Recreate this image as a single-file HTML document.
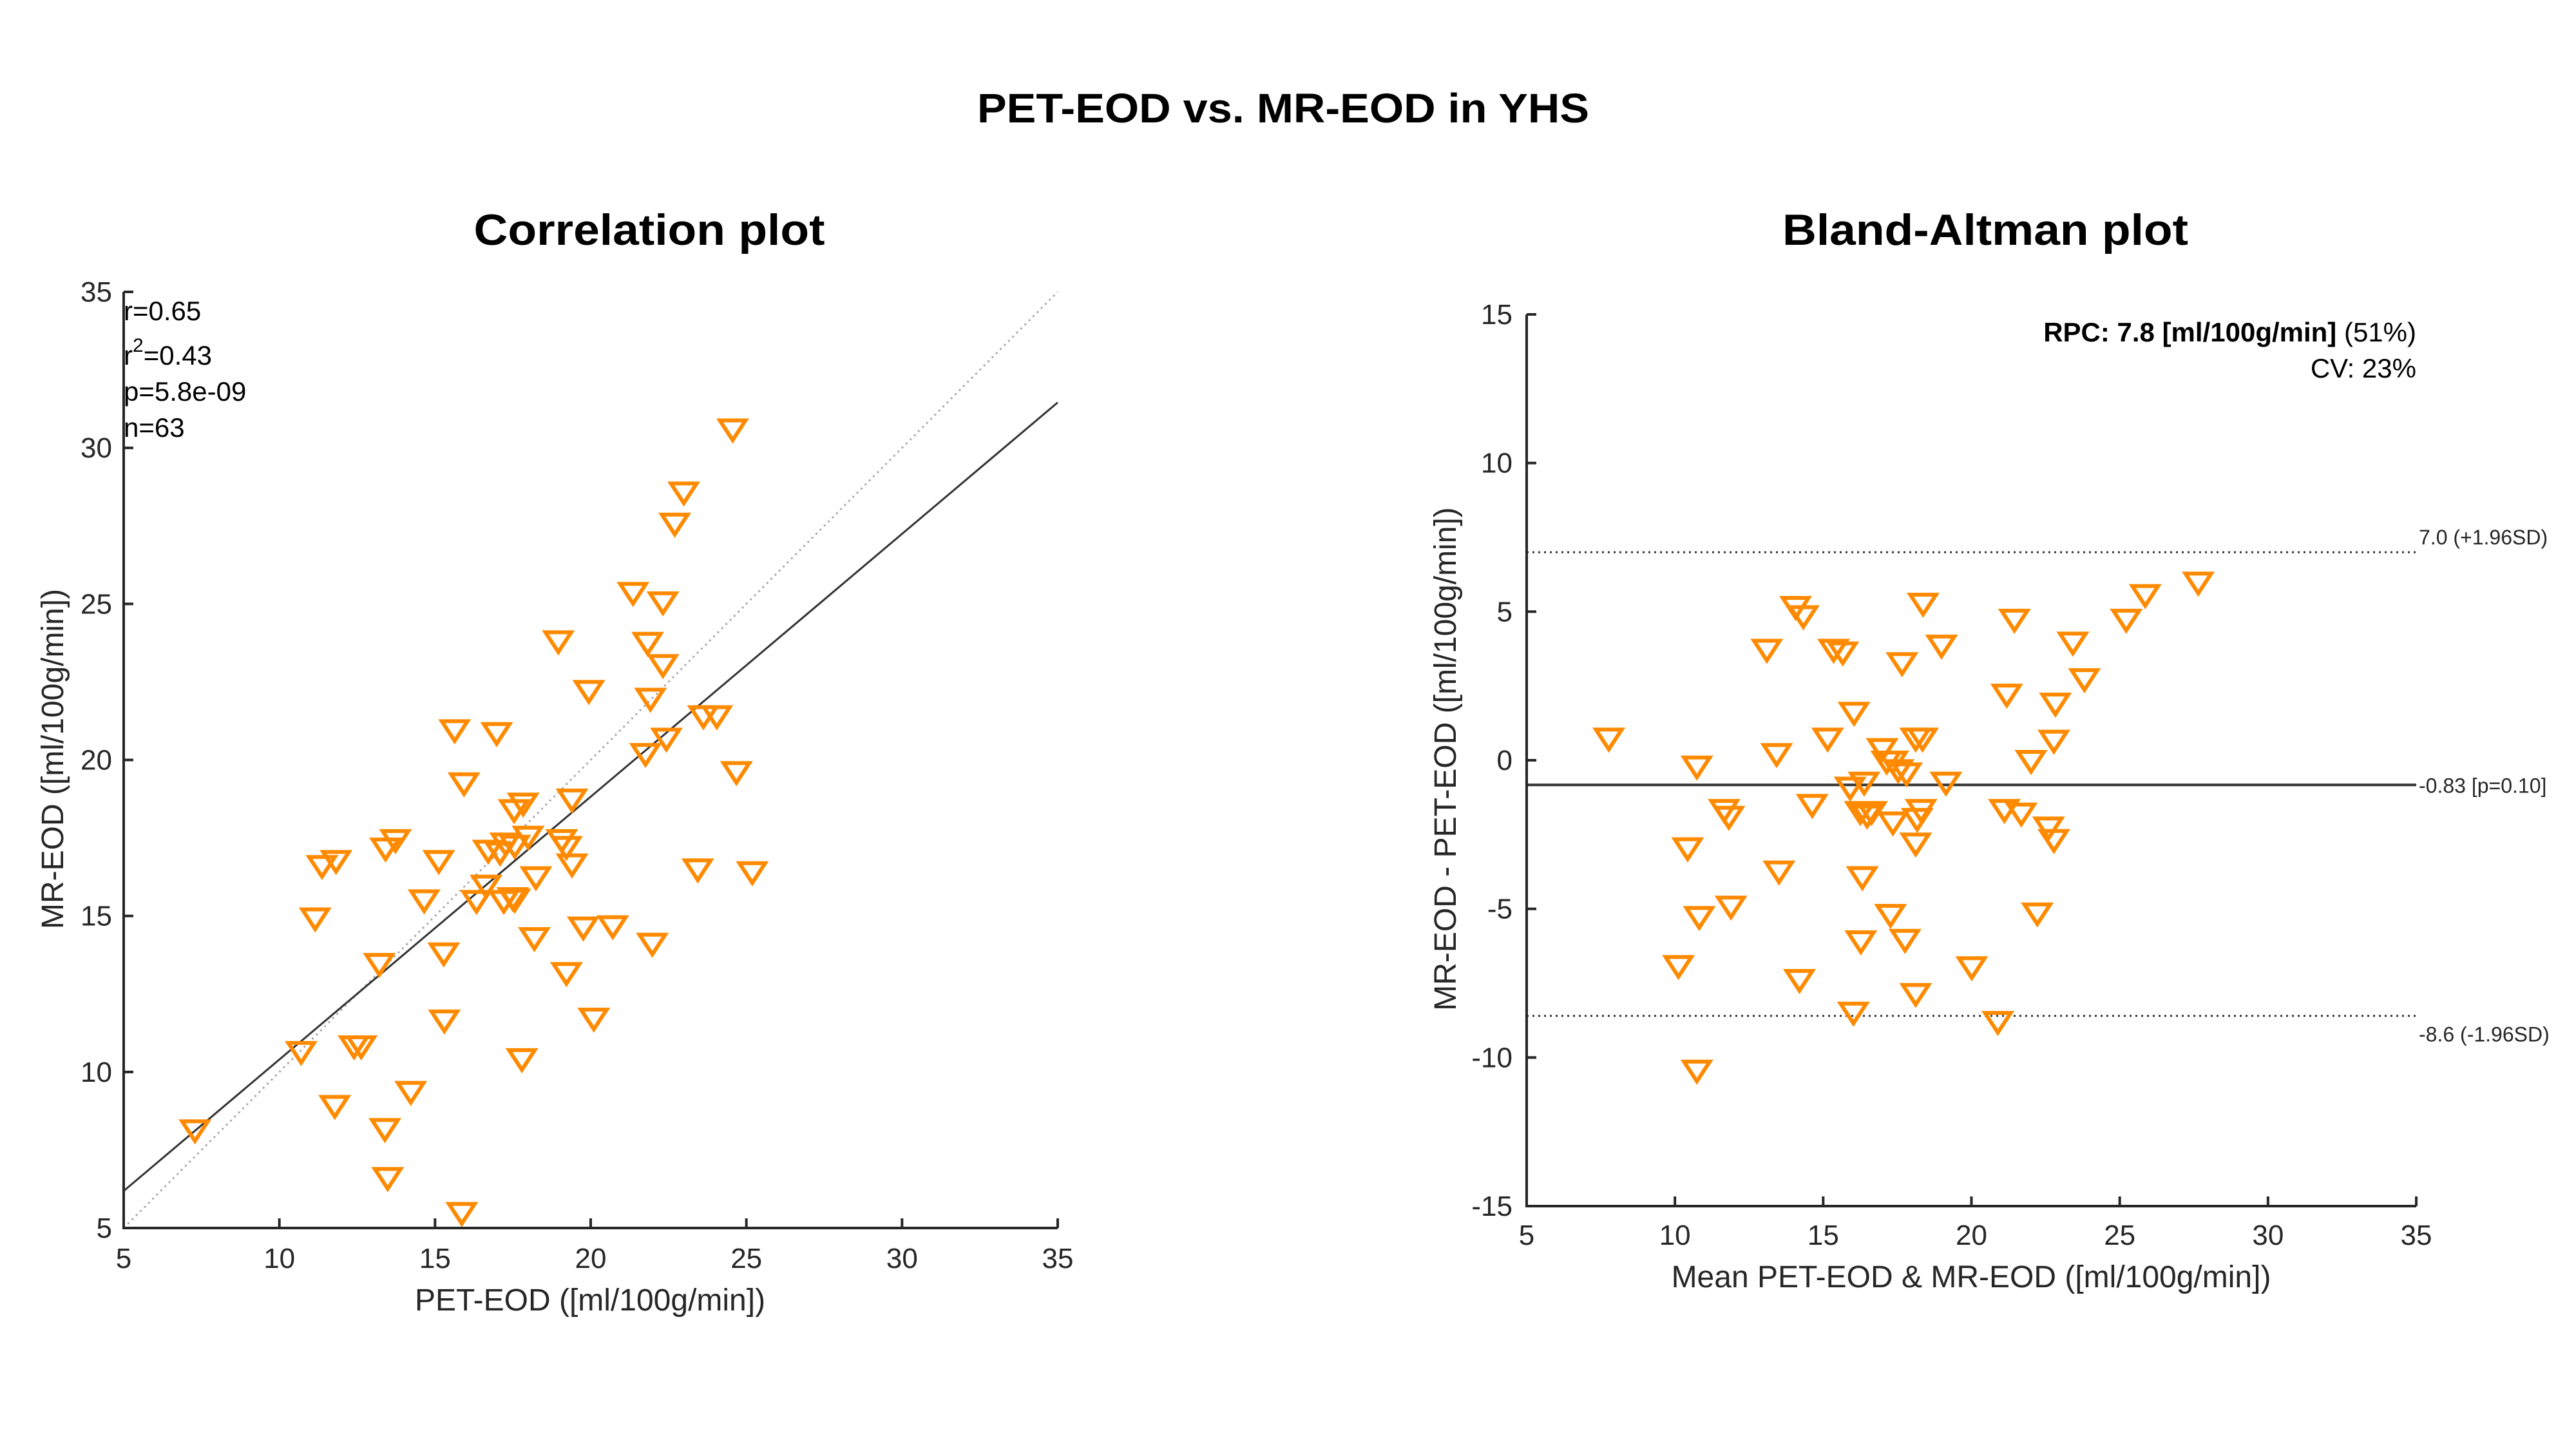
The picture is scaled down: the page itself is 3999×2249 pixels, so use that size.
<!DOCTYPE html>
<html><head><meta charset="utf-8"><style>
html,body{margin:0;padding:0;background:#fff;}
svg{display:block;}
text{font-family:"Liberation Sans",sans-serif;fill:#262626;}
</style></head><body>
<svg id="fig" width="3999" height="2249" viewBox="0 0 3999 2249" xmlns="http://www.w3.org/2000/svg">
<rect width="3999" height="2249" fill="#fff"/>
<text x="1992" y="190" text-anchor="middle" font-size="64" font-weight="bold" fill="#000" style="fill:#000" textLength="950" lengthAdjust="spacingAndGlyphs">PET-EOD vs. MR-EOD in YHS</text>
<text x="1008" y="380" text-anchor="middle" font-size="68" font-weight="bold" style="fill:#000" textLength="545" lengthAdjust="spacingAndGlyphs">Correlation plot</text>
<text x="3082" y="380" text-anchor="middle" font-size="68" font-weight="bold" style="fill:#000" textLength="630" lengthAdjust="spacingAndGlyphs">Bland-Altman plot</text>
<g id="left"></g>
<g id="right"></g>
</svg>
<script>
// Correlation plot data
const petEOD = [7.29,10.70,11.15,11.37,11.82,11.78,12.40,12.63,13.21,13.39,13.48,13.41,13.73,14.22,14.65,15.12,15.28,15.30,15.63,15.93,15.86,16.33,16.64,16.71,16.98,17.09,17.21,17.27,17.50,17.56,17.54,17.83,17.99,17.79,18.24,18.19,18.96,19.07,19.22,19.40,19.40,19.22,19.94,19.76,20.10,20.71,21.36,21.83,21.76,21.92,21.98,22.32,22.32,22.43,22.70,22.99,23.62,24.05,23.44,24.56,24.68,25.19,17.56];
const mrEOD = [8.21,10.72,15.0,16.68,16.84,8.99,10.9,10.9,13.54,8.25,6.68,17.24,17.51,9.44,15.58,16.84,13.88,11.73,21.03,19.33,5.56,15.56,16.05,17.17,20.94,17.11,15.56,17.40,15.65,17.33,18.47,18.68,17.62,10.49,16.32,14.37,23.88,17.51,17.29,16.73,18.81,13.25,22.29,14.71,11.79,14.75,25.43,23.83,20.27,22.04,14.19,25.13,23.12,20.76,27.65,28.65,21.48,21.48,16.57,30.67,19.69,16.48,15.6];
const leftTicks = [5,10,15,20,25,30,35];
const statLabels = ["r=0.65","r²=0.43","p=5.8e-09","n=63"];
// Bland-Altman data
const baMean = [7.77,10.74,10.43,10.82,10.12,10.74,11.66,11.82,11.89,13.10,13.43,13.51,14.07,14.33,14.63,14.20,15.15,15.35,15.66,16.04,15.91,16.38,16.25,16.48,16.63,16.32,16.27,16.02,16.99,17.14,17.35,17.53,17.81,17.35,17.27,17.76,17.66,18.12,18.35,18.37,18.30,18.17,18.12,18.12,18.99,19.14,20.01,20.89,21.19,21.11,21.68,21.45,22.01,22.22,22.60,22.78,22.83,22.78,23.42,23.81,25.22,25.86,27.65];
const baDiff = [0.81,-0.13,-2.88,-5.19,-6.84,-10.36,-1.59,-1.82,-4.84,3.80,0.29,-3.66,5.24,4.93,-1.42,-7.31,0.81,3.80,3.71,1.68,-0.84,-0.67,-1.66,-1.78,-1.66,-3.85,-6.01,-8.41,0.46,0.04,0.04,-0.25,-0.36,-2.01,-5.12,-5.96,3.35,0.81,0.81,5.35,-1.59,-1.89,-2.72,-7.78,3.94,-0.67,-6.88,-8.72,2.29,-1.59,-1.71,4.81,0.06,-5.07,-2.18,-2.60,1.99,0.74,4.04,2.81,4.81,5.64,6.06];
const baXTicks = [5,10,15,20,25,30,35];
const baYTicks = [-15,-10,-5,0,5,10,15];
const baLines = [7.0,-0.83,-8.6];
const baLineLabels = ["7.0 (+1.96SD)","-0.83 [p=0.10]","-8.6 (-1.96SD)"];

const NS="http://www.w3.org/2000/svg";
function mk(parent,tag,attrs,txt){const e=document.createElementNS(NS,tag);for(const k in attrs)e.setAttribute(k,attrs[k]);if(txt!==undefined)e.textContent=txt;parent.appendChild(e);return e;}
function tri(g,cx,cy){const w=20,h=17;const p=mk(g,'polygon',{points:`${cx-w},${cy-h*0.6} ${cx+w},${cy-h*0.6} ${cx},${cy+h*1.2}`,fill:'none',stroke:'#FF8A00','stroke-width':6,'stroke-linejoin':'miter'});return p;}

// LEFT
const L=document.getElementById('left');
const lx=v=>192+(v-5)/30*(1642-192);
const ly=v=>1906-(v-5)/30*(1906-453);
let e;
e=mk(L,'line',{x1:lx(5),y1:ly(5),x2:lx(35),y2:ly(35),stroke:'#aaa','stroke-width':3,'stroke-dasharray':'3 6'});


// regression
const n=petEOD.length;let mx=0,my=0;for(let i=0;i<n;i++){mx+=petEOD[i];my+=mrEOD[i];}mx/=n;my/=n;
let sxy=0,sxx=0;for(let i=0;i<n;i++){sxy+=(petEOD[i]-mx)*(mrEOD[i]-my);sxx+=(petEOD[i]-mx)**2;}
const b=sxy/sxx,a=my-b*mx;
e=mk(L,'line',{x1:lx(5),y1:ly(a+b*5),x2:lx(35),y2:ly(a+b*35),stroke:'#333','stroke-width':3});


for(let i=0;i<n;i++){e=tri(L,lx(petEOD[i]),ly(mrEOD[i]));

}
e=mk(L,'path',{d:`M${lx(5)},${ly(35)}V${ly(5)}H${lx(35)}`,fill:'none',stroke:'#262626','stroke-width':4});


leftTicks.forEach(t=>{
 e=mk(L,'line',{x1:lx(t),y1:ly(5),x2:lx(t),y2:ly(5)-15,stroke:'#262626','stroke-width':4});
 
 
 e=mk(L,'line',{x1:lx(5),y1:ly(t),x2:lx(5)+15,y2:ly(t),stroke:'#262626','stroke-width':4});
 
 
 e=mk(L,'text',{x:lx(t),y:ly(5)+62,'text-anchor':'middle','font-size':44},String(t));
 
 
 e=mk(L,'text',{x:lx(5)-18,y:ly(t)+15,'text-anchor':'end','font-size':44},String(t));
 
 
});
const statY=[497,566,622,678];
statLabels.forEach((s,i)=>{
 e=mk(L,'text',{x:192,y:statY[i],'font-size':42,style:'fill:#000'});
 if(s.indexOf('²')>=0){mk(e,'tspan',{},'r');mk(e,'tspan',{dy:-20,'font-size':30},'2');mk(e,'tspan',{dy:20},'=0.43');}else e.textContent=s;
 
 
});
e=mk(L,'text',{x:916,y:2034,'text-anchor':'middle','font-size':48},'PET-EOD ([ml/100g/min])');


e=mk(L,'text',{x:0,y:0,'text-anchor':'middle','font-size':48,transform:'translate(98,1178) rotate(-90)'},'MR-EOD ([ml/100g/min])');



// RIGHT
const R=document.getElementById('right');
const rx=v=>2370+(v-5)/30*(3751-2370);
const ry=v=>1872-(v+15)/30*(1872-488);
baLines.forEach((v,i)=>{
 e=mk(R,'line',{x1:rx(5),y1:ry(v),x2:rx(35),y2:ry(v),stroke:'#333','stroke-width':i===1?4:3,'stroke-dasharray':i===1?'none':'3 6'});
 
 
 const dy=i===0?-12:(i===1?12:40);
 e=mk(R,'text',{x:rx(35)+4,y:ry(v)+dy,'font-size':32},baLineLabels[i]);
 
 
});
for(let i=0;i<baMean.length;i++){e=tri(R,rx(baMean[i]),ry(baDiff[i]));

}
e=mk(R,'path',{d:`M${rx(5)},${ry(15)}V${ry(-15)}H${rx(35)}`,fill:'none',stroke:'#262626','stroke-width':4});


baXTicks.forEach(t=>{
 e=mk(R,'line',{x1:rx(t),y1:ry(-15),x2:rx(t),y2:ry(-15)-15,stroke:'#262626','stroke-width':4});
 
 
 e=mk(R,'text',{x:rx(t),y:ry(-15)+60,'text-anchor':'middle','font-size':44},String(t));
 
 
});
baYTicks.forEach(t=>{
 e=mk(R,'line',{x1:rx(5),y1:ry(t),x2:rx(5)+15,y2:ry(t),stroke:'#262626','stroke-width':4});
 
 
 e=mk(R,'text',{x:rx(5)-22,y:ry(t)+15,'text-anchor':'end','font-size':44},String(t));
 
 
});
e=mk(R,'text',{x:3751,y:530,'text-anchor':'end','font-size':42,style:'fill:#000'});
mk(e,'tspan',{'font-weight':'bold'},'RPC: 7.8 [ml/100g/min]');mk(e,'tspan',{},' (51%)');


e=mk(R,'text',{x:3751,y:586,'text-anchor':'end','font-size':42,style:'fill:#000'},'CV: 23%');


e=mk(R,'text',{x:3060,y:1998,'text-anchor':'middle','font-size':48},'Mean PET-EOD & MR-EOD ([ml/100g/min])');


e=mk(R,'text',{x:0,y:0,'text-anchor':'middle','font-size':48,transform:'translate(2260,1178) rotate(-90)'},'MR-EOD - PET-EOD ([ml/100g/min])');


</script>
</body></html>
